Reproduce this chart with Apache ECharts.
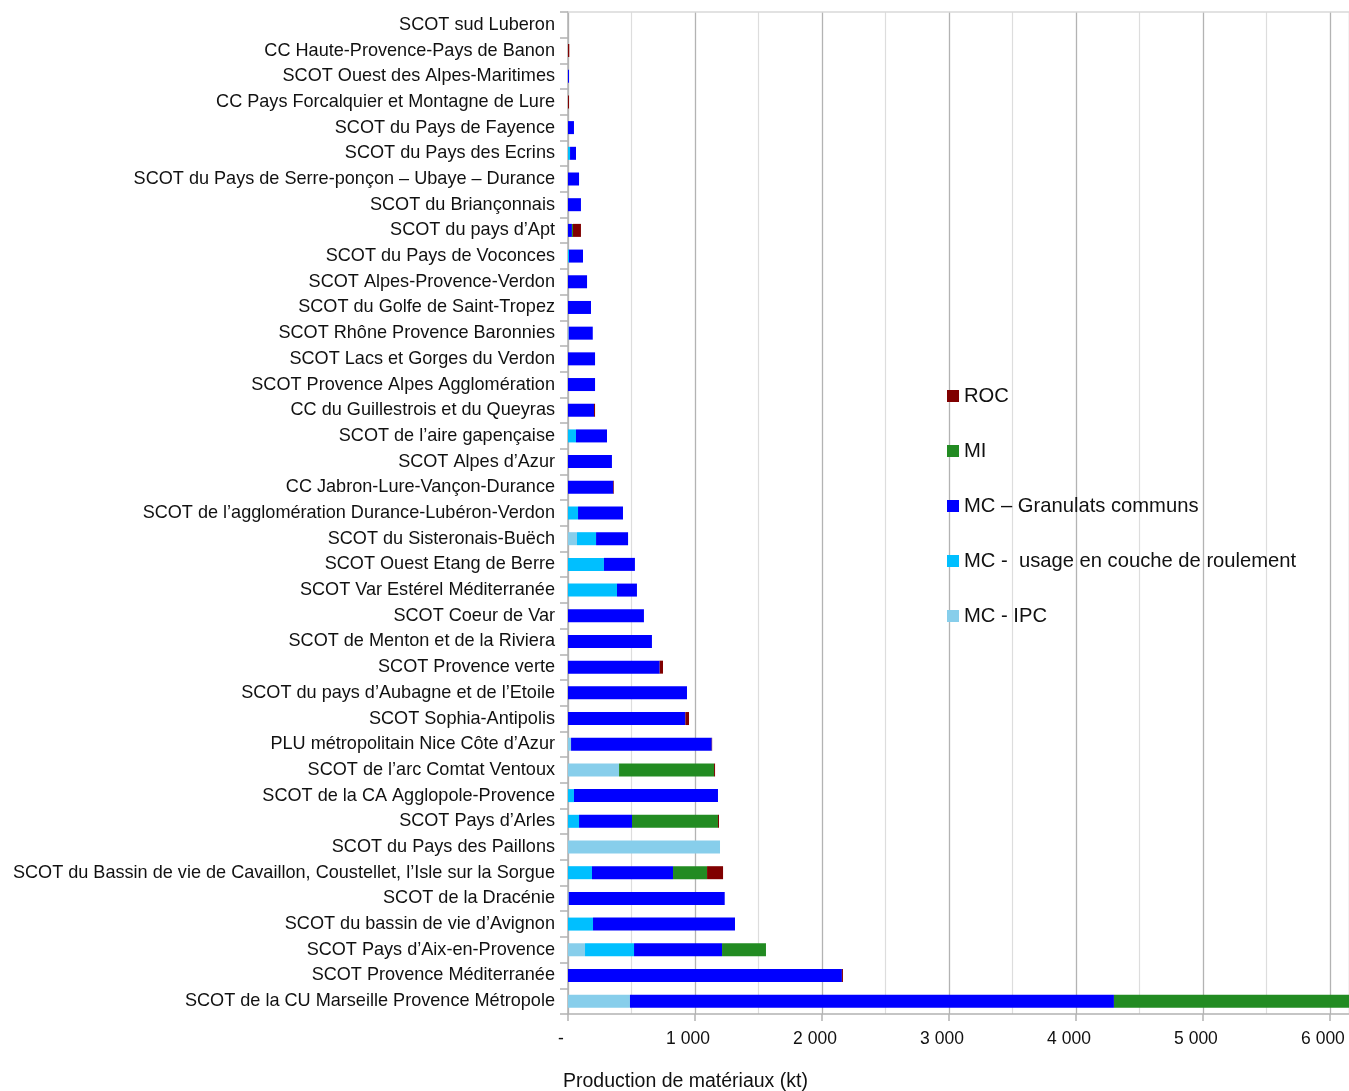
<!DOCTYPE html>
<html>
<head>
<meta charset="utf-8">
<title>Production de matériaux par territoire</title>
<script src="https://cdn.jsdelivr.net/npm/echarts@6/dist/echarts.min.js"></script>
<style>
  html, body { margin: 0; padding: 0; background: #fff; }
  #chart { width: 1349px; height: 1091px; }
</style>
</head>
<body>
<div id="chart"></div>
<script>
// Territories, listed top to bottom
const territoires = [
  'SCOT sud Luberon',
  'CC Haute-Provence-Pays de Banon',
  'SCOT Ouest des Alpes-Maritimes',
  'CC Pays Forcalquier et Montagne de Lure',
  'SCOT du Pays de Fayence',
  'SCOT du Pays des Ecrins',
  'SCOT du Pays de Serre-ponçon – Ubaye – Durance',
  'SCOT du Briançonnais',
  'SCOT du pays d’Apt',
  'SCOT du Pays de Voconces',
  'SCOT Alpes-Provence-Verdon',
  'SCOT du Golfe de Saint-Tropez',
  'SCOT Rhône Provence Baronnies',
  'SCOT Lacs et Gorges du Verdon',
  'SCOT Provence Alpes Agglomération',
  'CC du Guillestrois et du Queyras',
  'SCOT de l’aire gapençaise',
  'SCOT Alpes d’Azur',
  'CC Jabron-Lure-Vançon-Durance',
  'SCOT de l’agglomération Durance-Lubéron-Verdon',
  'SCOT du Sisteronais-Buëch',
  'SCOT Ouest Etang de Berre',
  'SCOT Var Estérel Méditerranée',
  'SCOT Coeur de Var',
  'SCOT de Menton et de la Riviera',
  'SCOT Provence verte',
  'SCOT du pays d’Aubagne et de l’Etoile',
  'SCOT Sophia-Antipolis',
  'PLU métropolitain Nice Côte d’Azur',
  'SCOT de l’arc Comtat Ventoux',
  'SCOT de la CA Agglopole-Provence',
  'SCOT Pays d’Arles',
  'SCOT du Pays des Paillons',
  'SCOT du Bassin de vie de Cavaillon, Coustellet, l’Isle sur la Sorgue',
  'SCOT de la Dracénie',
  'SCOT du bassin de vie d’Avignon',
  'SCOT Pays d’Aix-en-Provence',
  'SCOT Provence Méditerranée',
  'SCOT de la CU Marseille Provence Métropole'
];

// Production (kt) per material family, same order as territoires
const mcIpc = [0, 0, 0, 0, 0, 0, 0, 0, 0, 0, 0, 0, 6, 0, 0, 0, 0, 0, 0, 0,
  71, 0, 0, 0, 0, 0, 0, 0, 24, 402, 0, 0, 1197, 0, 6, 0, 134, 0, 488];
const mcRoulement = [0, 0, 0, 0, 0, 16, 0, 0, 0, 8, 0, 0, 0, 0, 0, 0, 63, 0, 0, 79,
  150, 283, 386, 0, 0, 0, 0, 0, 0, 0, 47, 87, 0, 189, 0, 197, 386, 0, 0];
const mcGranulats = [0, 0, 8, 0, 47, 47, 87, 102, 31, 110, 150, 181, 189, 213, 213, 205, 244, 346, 357, 354,
  252, 244, 157, 598, 661, 722, 937, 924, 1108, 0, 1134, 417, 0, 638, 1228, 1118, 693, 2157, 3811];
const mi = [0, 0, 0, 0, 0, 0, 0, 0, 8, 0, 0, 0, 0, 0, 0, 0, 0, 0, 0, 0,
  0, 0, 0, 0, 0, 0, 0, 0, 0, 748, 0, 677, 0, 268, 0, 0, 346, 0, 1900];
const roc = [0, 10, 0, 8, 0, 0, 0, 0, 63, 0, 0, 0, 0, 0, 0, 8, 0, 0, 5, 0,
  0, 0, 0, 0, 0, 26, 0, 29, 3, 8, 0, 8, 0, 126, 0, 0, 0, 8, 0];

const seriesNames = ['MC - IPC', 'MC -  usage en couche de roulement', 'MC – Granulats communs', 'MI', 'ROC'];
const seriesData = [mcIpc, mcRoulement, mcGranulats, mi, roc];
const seriesColors = ['#87ceeb', '#00bfff', '#0000ff', '#228b22', '#800000'];
const legendOrder = ['ROC', 'MI', 'MC – Granulats communs', 'MC -  usage en couche de roulement', 'MC - IPC'];

const FONT = '"Liberation Sans", Arial, sans-serif';

function formatKt(v) {
  if (v === 0) return '-';
  return String(v).replace(/\B(?=(\d{3})+(?!\d))/g, ' ');
}

const chart = echarts.init(document.getElementById('chart'), null, { renderer: 'canvas' });

chart.setOption({
  animation: false,
  backgroundColor: '#ffffff',
  textStyle: { fontFamily: FONT },
  title: {
    text: 'Production de matériaux (kt)',
    left: 563,
    top: 1072,
    padding: 0,
    textStyle: { fontFamily: FONT, fontSize: 19.5, fontWeight: 'normal', color: '#111' }
  },
  legend: {
    orient: 'vertical',
    left: 942,
    top: 381,
    itemWidth: 12,
    itemHeight: 12,
    itemGap: 35,
    icon: 'rect',
    data: legendOrder,
    selectedMode: false,
    textStyle: { fontFamily: FONT, fontSize: 20.2, color: '#111', lineHeight: 20 }
  },
  grid: { left: 568, top: 12, right: 0, bottom: 77, containLabel: false },
  xAxis: [{
    type: 'value',
    min: 0,
    max: 6150,
    interval: 1000,
    axisLine: { show: true, lineStyle: { color: '#b3b3b3', width: 1.5 } },
    axisTick: { show: true, length: 7, lineStyle: { color: '#b3b3b3', width: 1.5 } },
    axisLabel: {
      color: '#111', fontFamily: FONT, fontSize: 17.5, margin: 16,
      padding: [0, 14, 0, 0],
      showMaxLabel: false,
      formatter: formatKt
    },
    splitLine: { show: true, lineStyle: { color: '#b3b3b3', width: 1.3 } },
    minorTick: { show: false, splitNumber: 2 },
    minorSplitLine: { show: true, lineStyle: { color: '#dddddd', width: 1.2 } }
  }, {
    type: 'value',
    position: 'top',
    min: 0,
    max: 6150,
    axisLine: { show: true, lineStyle: { color: '#d9d9d9', width: 1.5 } },
    axisTick: { show: false },
    axisLabel: { show: false },
    splitLine: { show: false }
  }],
  yAxis: {
    type: 'category',
    inverse: true,
    data: territoires,
    axisLine: { show: true, lineStyle: { color: '#b3b3b3', width: 1.5 } },
    axisTick: { show: true, length: 8, lineStyle: { color: '#b3b3b3', width: 1.5 } },
    axisLabel: { color: '#111', fontFamily: FONT, fontSize: 18.1, margin: 13, interval: 0 },
    splitLine: { show: false }
  },
  series: seriesNames.map((name, i) => ({
    name: name,
    type: 'bar',
    stack: 'total',
    barWidth: 13,
    data: seriesData[i],
    itemStyle: { color: seriesColors[i] },
    emphasis: { disabled: true }
  }))
});
</script>
</body>
</html>
